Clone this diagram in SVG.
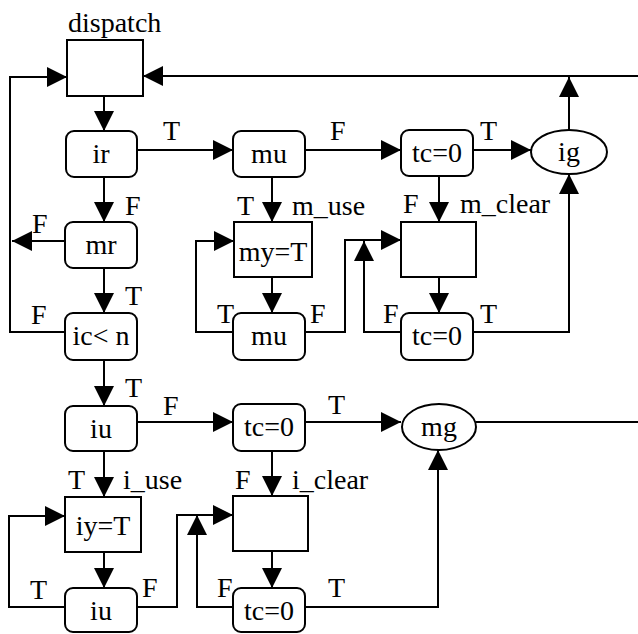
<svg xmlns="http://www.w3.org/2000/svg" width="638" height="634" viewBox="0 0 638 634">
<defs>
<style>
.n{fill:#fff;stroke:#000;stroke-width:2}
.c{fill:none;stroke:#000;stroke-width:2;marker-end:url(#ah)}
.p{fill:none;stroke:#000;stroke-width:2}
.m{text-anchor:middle}
</style>
<marker id="ah" markerUnits="userSpaceOnUse" markerWidth="20" markerHeight="20" refX="20" refY="10" orient="auto">
<path d="M0,0 L20,10 L0,20 Z" fill="#000"/>
</marker>
</defs>
<rect width="638" height="634" fill="#fff"/>
<g id="connectors">
<path class="c" d="M104,96 V131"/>
<path class="c" d="M137,150 H233"/>
<path class="c" d="M305,150 H401"/>
<path class="c" d="M473,150 H531"/>
<path class="c" d="M569,130 V77"/>
<path class="c" d="M638,76 H143"/>
<path class="c" d="M65,332 H10 V77 H67"/>
<path class="c" d="M65,241 H12"/>
<path class="c" d="M104,177 V222"/>
<path class="c" d="M104,268 V313"/>
<path class="c" d="M104,360 V406"/>
<path class="c" d="M137,422 H233"/>
<path class="c" d="M305,422 H401"/>
<path class="p" d="M476,422 H638"/>
<path class="c" d="M104,451 V497"/>
<path class="c" d="M104,552 V588"/>
<path class="c" d="M65,607 H9 V516 H65"/>
<path class="c" d="M137,607 H177 V515 H233"/>
<path class="c" d="M272,451 V496"/>
<path class="c" d="M272,551 V588"/>
<path class="c" d="M233,607 H197 V515"/>
<path class="c" d="M305,607 H438 V450"/>
<path class="c" d="M272,177 V222"/>
<path class="c" d="M272,277 V313"/>
<path class="c" d="M233,332 H196 V241 H234"/>
<path class="c" d="M305,332 H345 V240 H401"/>
<path class="c" d="M439,176 V222"/>
<path class="c" d="M439,277 V313"/>
<path class="c" d="M401,332 H364 V241"/>
<path class="c" d="M473,332 H569 V174"/>
</g>
<g font-family="'Times New Roman', Times, 'Liberation Serif', Tinos, 'Noto Serif', 'DejaVu Serif', serif" font-size="28" fill="#000">
<g id="labels">
<text x="163" y="140">T</text>
<text x="125" y="215">F</text>
<text x="32" y="233">F</text>
<text x="125" y="305">T</text>
<text x="31" y="324">F</text>
<text x="125" y="397">T</text>
<text x="163" y="415">F</text>
<text x="68" y="489">T</text>
<text x="123" y="489">i_use</text>
<text x="30" y="599">T</text>
<text x="142" y="597">F</text>
<text x="217" y="597">F</text>
<text x="328" y="597">T</text>
<text x="235" y="489">F</text>
<text x="292" y="489">i_clear</text>
<text x="328" y="414">T</text>
<text x="330" y="140">F</text>
<text x="480" y="140">T</text>
<text x="237" y="215">T</text>
<text x="292" y="215">m_use</text>
<text x="403" y="213">F</text>
<text x="460" y="213">m_clear</text>
<text x="217" y="323">T</text>
<text x="310" y="323">F</text>
<text x="383" y="323">F</text>
<text x="480" y="323">T</text>
</g>
<g id="dispatch"><text x="68" y="32">dispatch</text><rect class="n" x="67" y="40" width="76" height="56"/></g>
<g id="ir"><rect class="n" x="66" y="131" width="71" height="46" rx="8"/><text class="m" x="101" y="163">ir</text></g>
<g id="mr"><rect class="n" x="65" y="222" width="72" height="46" rx="8"/><text class="m" x="101" y="254">mr</text></g>
<g id="ic_lt_n"><rect class="n" x="65" y="313" width="72" height="47" rx="8"/><text class="m" x="101" y="345">ic&lt; n</text></g>
<g id="iu"><rect class="n" x="65" y="406" width="72" height="45" rx="8"/><text class="m" x="101" y="438">iu</text></g>
<g id="iy_T"><rect class="n" x="65" y="497" width="76" height="55"/><text class="m" x="103" y="535">iy=T</text></g>
<g id="iu2"><rect class="n" x="65" y="588" width="72" height="44" rx="8"/><text class="m" x="101" y="620">iu</text></g>
<g id="mu"><rect class="n" x="233" y="131" width="72" height="46" rx="8"/><text class="m" x="269" y="163">mu</text></g>
<g id="my_T"><rect class="n" x="234" y="222" width="78" height="55"/><text class="m" x="273" y="261">my=T</text></g>
<g id="mu2"><rect class="n" x="233" y="313" width="72" height="47" rx="8"/><text class="m" x="269" y="345">mu</text></g>
<g id="tc1"><rect class="n" x="401" y="130" width="72" height="46" rx="8"/><text class="m" x="437" y="162">tc=0</text></g>
<g id="m_clear"><rect class="n" x="401" y="222" width="75" height="55"/></g>
<g id="tc2"><rect class="n" x="401" y="313" width="72" height="47" rx="8"/><text class="m" x="437" y="345">tc=0</text></g>
<g id="ig"><ellipse class="n" cx="569" cy="152" rx="38" ry="22"/><text class="m" x="569" y="161">ig</text></g>
<g id="tc3"><rect class="n" x="233" y="404" width="72" height="47" rx="8"/><text class="m" x="269" y="436">tc=0</text></g>
<g id="i_clear"><rect class="n" x="233" y="496" width="75" height="55"/></g>
<g id="tc4"><rect class="n" x="233" y="588" width="72" height="44" rx="8"/><text class="m" x="269" y="620">tc=0</text></g>
<g id="mg"><ellipse class="n" cx="439" cy="427" rx="37" ry="23"/><text class="m" x="439" y="436">mg</text></g>
</g>
</svg>
